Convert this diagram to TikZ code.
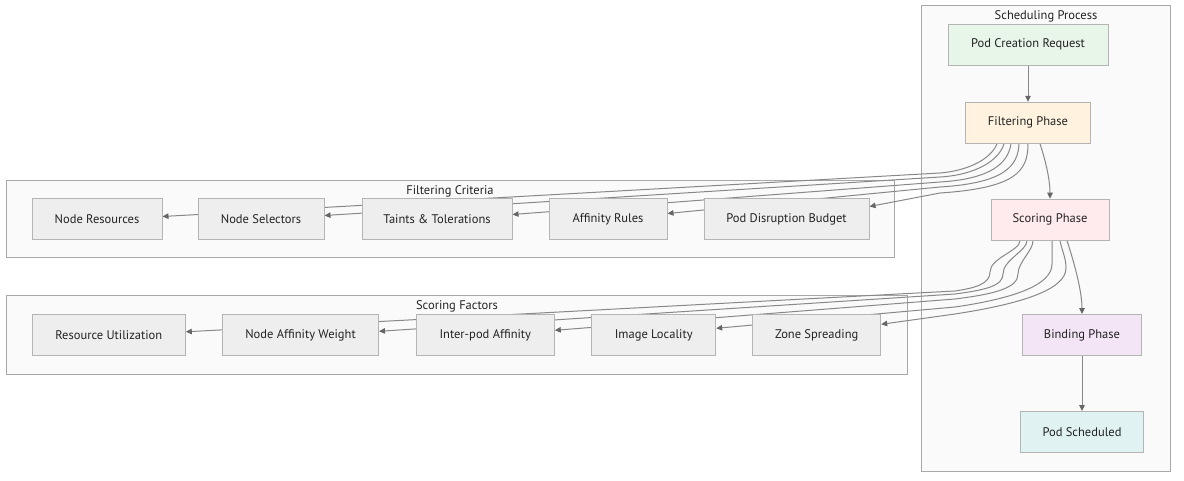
\documentclass[tikz,border=0pt]{standalone}
\usepackage{fontspec}
\setmainfont{PT Sans}
\usetikzlibrary{arrows.meta}

\definecolor{boxline}{HTML}{B4B4B4}
\definecolor{boxfill}{HTML}{EEEEEE}
\definecolor{clusterline}{HTML}{A8A8A8}
\definecolor{clusterfill}{HTML}{FAFAFA}
\definecolor{edgecol}{HTML}{888888}
\definecolor{arrowcol}{HTML}{666666}
\definecolor{textcol}{HTML}{222222}
\definecolor{greenfill}{HTML}{E8F5E9}
\definecolor{orangefill}{HTML}{FFF3E0}
\definecolor{redfill}{HTML}{FFEBEE}
\definecolor{purplefill}{HTML}{F3E5F5}
\definecolor{tealfill}{HTML}{E0F2F1}

\pgfdeclarelayer{bg}
\pgfdeclarelayer{edges}
\pgfsetlayers{bg,edges,main}

\tikzset{
  box/.style={draw=boxline, fill=boxfill, line width=1pt, minimum height=41pt,
    inner sep=0pt, text=textcol, font=\fontsize{12.5}{14}\selectfont},
  cluster/.style={draw=clusterline, fill=clusterfill, line width=1pt},
  clusterlabel/.style={text=textcol, font=\fontsize{12.5}{14}\selectfont},
  edge/.style={draw=edgecol, line width=1pt,
    -{Triangle[length=6pt,width=5.5pt,color=arrowcol]}},
}

\begin{document}
\begin{tikzpicture}[x=1pt,y=-1pt]
    \useasboundingbox (0,0) rectangle (1184,481);
    % subgraphs
    \begin{pgfonlayer}{bg}
        \draw[cluster] (921,6) rectangle (1170,471);
        \draw[cluster] (6,181) rectangle (894,258);
        \draw[cluster] (6,296) rectangle (907,374);
    \end{pgfonlayer}
    \node[clusterlabel] (schedlabel) at (1046,16) {Scheduling Process};
    \node[clusterlabel] (filtlabel) at (450,191) {Filtering Criteria};
    \node[clusterlabel] (scorelabel) at (457,306) {Scoring Factors};

    % phases
    \node[box, fill=greenfill, minimum width=160pt] (pcr) at (1028,44.7) {Pod Creation Request};
    \node[box, fill=orangefill, minimum width=125pt] (fp) at (1028,122.8) {Filtering Phase};
    \node[box, fill=redfill, minimum width=118pt] (sp) at (1050,219.7) {Scoring Phase};
    \node[box, fill=purplefill, minimum width=119pt] (bp) at (1082,335) {Binding Phase};
    \node[box, fill=tealfill, minimum width=123pt] (ps) at (1082,432) {Pod Scheduled};

    % filtering criteria
    \node[box, minimum width=130pt] (nr) at (97,219.5) {Node Resources};
    \node[box, minimum width=126pt] (ns) at (261,219.5) {Node Selectors};
    \node[box, minimum width=150pt] (tt) at (437,219.5) {Taints \& Tolerations};
    \node[box, minimum width=118pt] (ar) at (608,219.5) {Affinity Rules};
    \node[box, minimum width=165pt] (pdb) at (786.5,219.5) {Pod Disruption Budget};

    % scoring factors
    \node[box, minimum width=153pt] (ru) at (108.8,335.3) {Resource Utilization};
    \node[box, minimum width=156pt] (naw) at (300.5,335.3) {Node Affinity Weight};
    \node[box, minimum width=138pt] (ipa) at (485.3,335.3) {Inter-pod Affinity};
    \node[box, minimum width=124pt] (il) at (653.7,335.3) {Image Locality};
    \node[box, minimum width=128pt] (zs) at (816.7,335.3) {Zone Spreading};

    \begin{pgfonlayer}{edges}
        \draw[edge] (pcr) -- (fp);
        \draw[edge] ([xshift=12pt]fp.south) .. controls +(5,15) and +(0,-20) .. (sp.north);
        \draw[edge] ([xshift=17pt]sp.south) .. controls +(5,15) and +(0,-25) .. (bp.north);
        \draw[edge] (bp) -- (ps);
        % filtering phase to criteria
        \foreach \dx/\ax/\ay/\ky/\bx/\by/\tgt/\ey in {-31/-7/17/173/25/-2/nr/3,
        -24/-5/17/177/35/-2/ns/4,
        -17/-3/20/182/50/-3/tt/5,
        -9/-1/22/187/65/-4/ar/6,
        0/0/28/193/75/-5/pdb/13}{
            \draw[edge] ([xshift=\dx pt]fp.south) .. controls +(\ax,\ay) and +(\bx,\by) .. (940,\ky)
                -- ([yshift=\ey pt]\tgt.east);
        }
        % scoring phase to factors
        \foreach \dx/\ax/\vx/\vy/\vb/\vc/\ky/\bx/\by/\tgt/\ey in {-30/0/990/272/14/12/291/20/-3/ru/3.5,
        -23/0/1003/274/14/12/294/30/-4/naw/4,
        -17/0/1018/274/12/14/299/40/-5/ipa/5,
        2/0/1052/264/10/22/307/55/-8/il/7,
        10/2/1066/268/10/22/314/65/-10/zs/11}{
            \draw[edge] ([xshift=\dx pt]sp.south) .. controls +(\ax,10) and +(0,-\vb) .. (\vx,\vy)
                .. controls +(0,\vc) and +(\bx,\by) .. (955,\ky) -- ([yshift=\ey pt]\tgt.east);
        }
    \end{pgfonlayer}
\end{tikzpicture}
\end{document}
